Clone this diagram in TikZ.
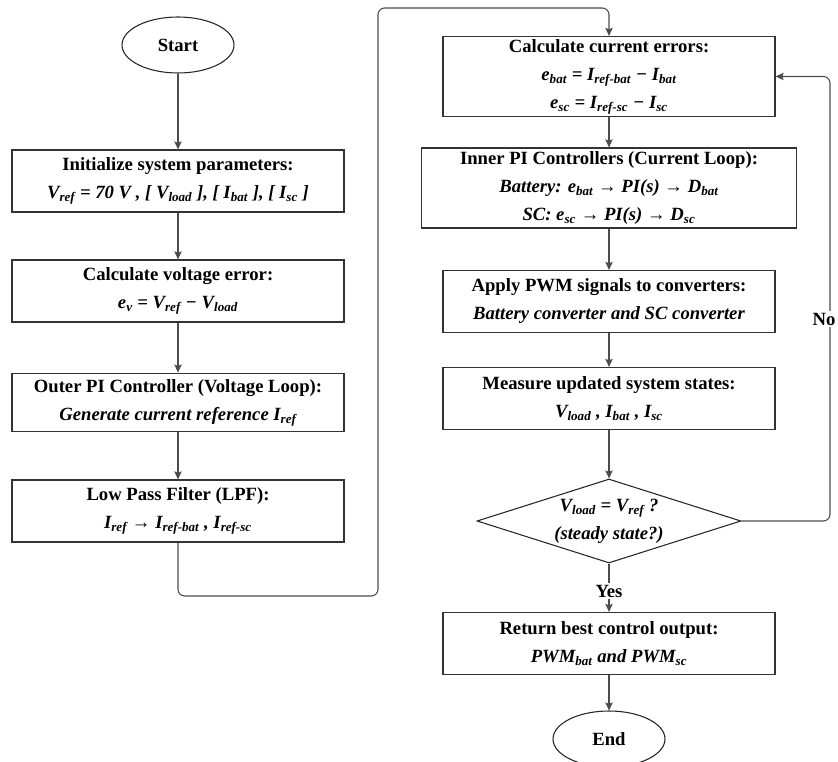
\documentclass[tikz,border=0pt]{standalone}
\usepackage{fontspec}
\setmainfont{Liberation Serif}
\usetikzlibrary{shapes.geometric,arrows.meta,positioning,calc}

\newcommand{\vsub}[2]{#1\textsubscript{#2}}
\newcommand{\boxfont}{\fontsize{14}{21}\selectfont\bfseries}

\tikzset{
  proc/.style={rectangle,draw=black!80,line width=0.9pt,fill=white,minimum width=249pt,minimum height=46.5pt,align=center,inner sep=2pt,font=\boxfont},
  term/.style={ellipse,draw=black!85,line width=0.8pt,fill=white,minimum width=84pt,minimum height=42pt,inner sep=0pt,font=\boxfont},
  dec/.style={diamond,draw=black!85,line width=0.8pt,fill=white,minimum width=198pt,minimum height=63pt,aspect=3,inner sep=0pt,align=center,font=\boxfont},
  arr/.style={-{Stealth[length=6pt,width=5.5pt,inset=1pt]},draw=black!70,line width=0.8pt},
  lbl/.style={fill=white,inner sep=1pt,font=\boxfont}
}

\begin{document}
\begin{tikzpicture}[x=0.75pt,y=-0.75pt]
\useasboundingbox (0,0) rectangle (838,762);
% left column
\node[term] (start) at (178,45) {Start};
\node[proc] (init) at (178,181) {Initialize system parameters:\\ \textit{\vsub{V}{ref} = 70 V , [ \vsub{V}{load} ], [ \vsub{I}{bat} ], [ \vsub{I}{sc} ]}};
\node[proc] (verr) at (178,291) {Calculate voltage error:\\ \textit{\vsub{e}{v} = \vsub{V}{ref} − \vsub{V}{load}}};
\node[proc,minimum height=44pt] (outer) at (178,402.5) {Outer PI Controller (Voltage Loop):\\ \textit{Generate current reference \vsub{I}{ref}}};
\node[proc] (lpf) at (178,511) {Low Pass Filter (LPF):\\ \textit{\vsub{I}{ref} → \vsub{I}{ref-bat} , \vsub{I}{ref-sc}}};
% right column
\node[proc,minimum height=59pt] (err) at (609,76.5) {Calculate current errors:\\ \textit{\vsub{e}{bat} = \vsub{I}{ref-bat} − \vsub{I}{bat}}\\ \textit{\vsub{e}{sc} = \vsub{I}{ref-sc} − \vsub{I}{sc}}};
\node[proc,minimum width=281pt,minimum height=60pt] (inner) at (609,188) {Inner PI Controllers (Current Loop):\\ \textit{Battery: \vsub{e}{bat} → PI(s) → \vsub{D}{bat}}\\ \textit{SC: \vsub{e}{sc} → PI(s) → \vsub{D}{sc}}};
\node[proc] (pwm) at (609,301.5) {Apply PWM signals to converters:\\ \textit{Battery converter and SC converter}};
\node[proc] (meas) at (609,398.5) {Measure updated system states:\\ \textit{\vsub{V}{load} , \vsub{I}{bat} , \vsub{I}{sc}}};
\node[dec] (check) at (609,521) {\textit{\vsub{V}{load} = \vsub{V}{ref} ?}\\ \textit{(steady state?)}};
\node[proc] (ret) at (609,643.5) {Return best control output:\\ \textit{\vsub{PWM}{bat} and \vsub{PWM}{sc}}};
\node[term] (stop) at (609,739) {End};
% bends
\coordinate (c1) at (378,596);
\coordinate (c2) at (378,8);
\coordinate (c3) at (830,300);
% connectors
\draw[arr] (start) -- (init);
\draw[arr] (init) -- (verr);
\draw[arr] (verr) -- (outer);
\draw[arr] (outer) -- (lpf);
\draw[arr,rounded corners=5pt] (lpf.south) |- (c1) -- (c2) -| (err.north);
\draw[arr] (err) -- (inner);
\draw[arr] (inner) -- (pwm);
\draw[arr] (pwm) -- (meas);
\draw[arr] (meas) -- (check);
\draw[arr] (check) -- (ret);
\draw[arr] (ret) -- (stop);
\draw[arr,rounded corners=5pt] (check.east) -| (c3) |- (err.east);
\node[lbl] (yes) at (609,591) {Yes};
\node[lbl,anchor=east] (no) at (837,319) {No};
\end{tikzpicture}
\end{document}
